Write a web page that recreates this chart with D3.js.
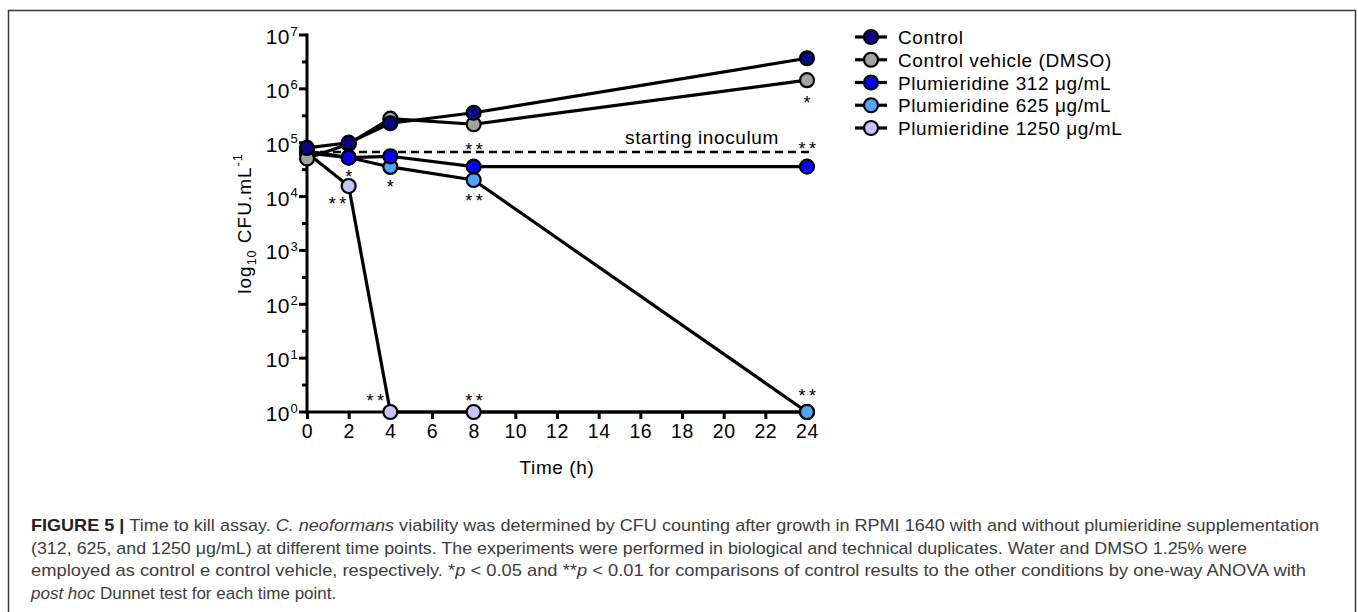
<!DOCTYPE html>
<html><head><meta charset="utf-8">
<script src="https://cdn.jsdelivr.net/npm/d3@7"></script>
<style>body{margin:0;background:#fff}svg{display:block}</style>
</head><body>
<svg id="c" width="1358" height="612"></svg>
<script>
// ---- data ----
const times = [0, 2, 4, 8, 24];
const seriesNames = ["Control", "Control vehicle (DMSO)", "Plumieridine 312 μg/mL", "Plumieridine 625 μg/mL", "Plumieridine 1250 μg/mL"];
const seriesColors = ["#07077e", "#a3a3a5", "#0000fb", "#52a3f5", "#c4c4f7"];
const control   = [8.0e4, 1.0e5, 2.3e5, 3.6e5, 3.7e6];
const dmso      = [5.1e4, 9.5e4, 2.8e5, 2.2e5, 1.45e6];
const p312      = [7.0e4, 5.3e4, 5.6e4, 3.6e4, 3.6e4];
const p625      = [6.5e4, 5.3e4, 3.55e4, 2.03e4, 1];
const p1250     = [6.5e4, 1.57e4, 1, 1, 1];
const startingInoculum = 6.7e4;
const xTicks = [0,2,4,6,8,10,12,14,16,18,20,22,24];
const yExponents = [0,1,2,3,4,5,6,7];
// significance marks: time, value at glyph centre, label
const sigMarks = [
  {t:2, v:2.72e4, s:"*"}, {t:1.45, v:8.6e3, s:"**"},
  {t:4, v:1.79e4, s:"*"}, {t:3.27, v:1.9, s:"**"},
  {t:8, v:8.7e4, s:"**"}, {t:8, v:9.8e3, s:"**"}, {t:8, v:1.9, s:"**"},
  {t:24, v:6.5e5, s:"*"}, {t:24, v:9.1e4, s:"**"}, {t:24, v:2.35, s:"**"}
];
const captionLines = [
  [["b","FIGURE 5 | "],["n","Time to kill assay. "],["i","C. neoformans"],["n"," viability was determined by CFU counting after growth in RPMI 1640 with and without plumieridine supplementation"]],
  [["n","(312, 625, and 1250 μg/mL) at different time points. The experiments were performed in biological and technical duplicates. Water and DMSO 1.25% were"]],
  [["n","employed as control e control vehicle, respectively. *"],["i","p"],["n"," < 0.05 and **"],["i","p"],["n"," < 0.01 for comparisons of control results to the other conditions by one-way ANOVA with"]],
  [["i","post hoc"],["n"," Dunnet test for each time point."]]
];
const captionWidths = [1288, 1216, 1275, null];

const allSeries = [control, dmso, p312, p625, p1250];

// ---- drawing ----
const svg = d3.select("#c");
const F = "'Liberation Sans', Arial, sans-serif";

// frame
svg.append("path").attr("d","M8.5,612 V10.5 H1355.5 V612")
  .attr("fill","none").attr("stroke","#3a3a3a").attr("stroke-width",1.5);

const x = d3.scaleLinear().domain([0,24]).range([307,807]);
const y = d3.scaleLog().domain([1,1e7]).range([412,35]);

// x axis
const gx = svg.append("g").attr("transform","translate(0,412)")
  .call(d3.axisBottom(x).tickValues(xTicks).tickSize(7).tickPadding(5).tickFormat(d3.format("d")));
gx.select(".domain").attr("stroke","#000").attr("stroke-width",3).attr("d","M305.5,0H808.5");
gx.selectAll(".tick line").attr("stroke","#000").attr("stroke-width",3);
gx.selectAll(".tick text").attr("font-family",F).attr("font-size",19.5).attr("fill","#000")
  .attr("letter-spacing",0.6).attr("y",12);

// y axis
const gy = svg.append("g").attr("transform","translate(307,0)");
gy.append("line").attr("y1",y(1)+1.5).attr("y2",y(1e7)-1.5).attr("stroke","#000").attr("stroke-width",3);
const minor = yExponents.slice(0,-1).map(e=>Math.pow(10,e+0.5));
gy.selectAll(".minor").data(minor).join("line")
  .attr("x1",-5).attr("x2",0).attr("y1",d=>y(d)).attr("y2",d=>y(d)).attr("stroke","#000").attr("stroke-width",3);
gy.selectAll(".major").data(yExponents).join("line")
  .attr("x1",-8).attr("x2",0).attr("y1",d=>y(Math.pow(10,d))).attr("y2",d=>y(Math.pow(10,d))).attr("stroke","#000").attr("stroke-width",3);
const yl = gy.selectAll(".lab").data(yExponents).join("g");
yl.append("text").attr("x",-17).attr("y",d=>y(Math.pow(10,d))+9).attr("text-anchor","end")
  .attr("font-family",F).attr("font-size",21).attr("letter-spacing",0.5).text("10");
yl.append("text").attr("x",-16.5).attr("y",d=>y(Math.pow(10,d))+0.5)
  .attr("font-family",F).attr("font-size",13).text(d=>d);

// y title
const yt = svg.append("text").attr("transform",`translate(251,${(y(1)+y(1e7))/2}) rotate(-90)`)
  .attr("text-anchor","middle").attr("font-family",F).attr("font-size",19).attr("letter-spacing",1);
yt.append("tspan").text("log");
yt.append("tspan").attr("font-size",12.5).attr("dy",5).text("10");
yt.append("tspan").attr("dy",-5).text(" CFU.mL");
yt.append("tspan").attr("font-size",12.5).attr("dy",-9).text("-1");

// x title
svg.append("text").attr("x",(x(0)+x(24))/2).attr("y",474).attr("text-anchor","middle")
  .attr("font-family",F).attr("font-size",19).attr("letter-spacing",0.6).text("Time (h)");

// starting inoculum
svg.append("line").attr("x1",x(0)).attr("x2",x(24)+5).attr("y1",y(startingInoculum)).attr("y2",y(startingInoculum))
  .attr("stroke","#000").attr("stroke-width",2.5).attr("stroke-dasharray","8,5");
svg.append("text").attr("x",x(22.65)).attr("y",y(startingInoculum)-8).attr("text-anchor","end")
  .attr("font-family",F).attr("font-size",19).attr("letter-spacing",0.6).text("starting inoculum");

// lines
const line = d3.line().x((d,i)=>x(times[i])).y(d=>y(d));
const order = [4,3,2,1,0];
svg.selectAll(".ln").data(order).join("path")
  .attr("d",i=>line(allSeries[i])).attr("fill","none").attr("stroke","#000").attr("stroke-width",3.2)
  .attr("stroke-linejoin","round");
// points
order.forEach(i=>{
  svg.selectAll(".pt"+i).data(allSeries[i]).join("circle")
    .attr("cx",(d,j)=>x(times[j])).attr("cy",d=>y(d)).attr("r",7)
    .attr("fill",seriesColors[i]).attr("stroke","#000").attr("stroke-width",2.2);
});

// significance
svg.selectAll(".sig").data(sigMarks).join("text")
  .attr("x",d=>x(d.t)+(d.s.length>1?2:0)).attr("y",d=>y(d.v)+10).attr("text-anchor","middle")
  .attr("font-family",F).attr("font-size",18).attr("letter-spacing",d=>d.s.length>1?3.5:0).text(d=>d.s);

// legend
const ly = d3.scalePoint().domain(d3.range(seriesNames.length)).range([37,128]);
const lg = svg.selectAll(".lg").data(seriesNames).join("g").attr("transform",(d,i)=>`translate(0,${ly(i)})`);
lg.append("line").attr("x1",855).attr("x2",887).attr("stroke","#000").attr("stroke-width",3.2);
lg.append("circle").attr("cx",871).attr("r",7).attr("fill",(d,i)=>seriesColors[i]).attr("stroke","#000").attr("stroke-width",2.2);
lg.append("text").attr("x",898).attr("y",7).attr("font-family",F).attr("font-size",19).attr("letter-spacing",0.6).text(d=>d);

// caption
const cap = svg.selectAll(".cap").data(captionLines).join("text")
  .attr("x",31).attr("y",(d,i)=>531+i*22.5).attr("font-family",F).attr("font-size",17).attr("fill","#3c3c3c")
  .each(function(d,i){
    if(captionWidths[i]) d3.select(this).attr("textLength",captionWidths[i]).attr("lengthAdjust","spacingAndGlyphs");
  });
cap.each(function(parts){
  const t = d3.select(this);
  parts.forEach(([k,s])=>{
    const ts = t.append("tspan").text(s);
    if(k==="b") ts.attr("font-weight","bold").attr("fill","#222");
    if(k==="i") ts.attr("font-style","italic");
  });
});
</script>
</body></html>
